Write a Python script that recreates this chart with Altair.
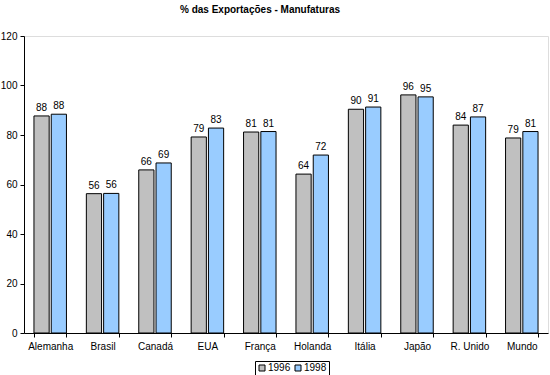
import altair as alt
import pandas as pd

categories = ["Alemanha", "Brasil", "Canadá", "EUA", "França", "Holanda", "Itália", "Japão", "R. Unido", "Mundo"]
v1996 = [87.7, 56.3, 65.9, 79.2, 81.2, 64.2, 90.4, 96.2, 84.0, 78.8]
v1998 = [88.4, 56.4, 68.7, 82.8, 81.4, 71.9, 91.3, 95.4, 87.3, 81.4]
series = ["1996", "1998"]

rows = []
for c, a, b in zip(categories, v1996, v1998):
    rows.append({"pais": c, "ano": "1996", "valor": a})
    rows.append({"pais": c, "ano": "1998", "valor": b})
df = pd.DataFrame(rows)

FONT = "Liberation Sans"

x = alt.X("pais:N", sort=categories, title=None,
          scale=alt.Scale(paddingInner=0.38, paddingOuter=0.19),
          axis=alt.Axis(labelAngle=0, tickBand="extent", domainColor="black",
                        tickColor="black", labelFont=FONT, labelFontSize=10,
                        labelColor="black", labelPadding=4, tickSize=4))
xo = alt.XOffset("ano:N", scale=alt.Scale(paddingInner=0.12))
y = alt.Y("valor:Q", title=None,
          scale=alt.Scale(domain=[0, 120], nice=False),
          axis=alt.Axis(values=[0, 20, 40, 60, 80, 100, 120], grid=False,
                        domainColor="black", tickColor="black", tickSize=4,
                        labelFont=FONT, labelFontSize=10, labelColor="black",
                        labelPadding=3))

bars = alt.Chart(df).mark_bar(stroke="black", strokeWidth=1).encode(
    x=x, xOffset=xo, y=y,
    color=alt.Color("ano:N", scale=alt.Scale(domain=series, range=["#c0c0c0", "#99ccff"]),
                    legend=alt.Legend(title=None, orient="none", direction="horizontal",
                                      legendX=231, legendY=325,
                                      strokeColor="black", padding=2,
                                      symbolType="square", symbolSize=36,
                                      symbolStrokeColor="black", symbolStrokeWidth=1,
                                      symbolOpacity=1,
                                      labelFont=FONT, labelFontSize=10, labelColor="black",
                                      columnPadding=2, labelOffset=1,
                                      fillColor="white"))
)

labels = alt.Chart(df).mark_text(dy=-8, font=FONT, fontSize=10, color="black").encode(
    x=x, xOffset=xo, y=y,
    text=alt.Text("valor:Q", format=".0f")
)

chart = (bars + labels).properties(
    width=524, height=297,
    title=alt.Title("% das Exportações - Manufaturas", font=FONT, fontSize=10,
                    fontWeight="bold", color="black", anchor="middle", offset=16, dx=-26),
    autosize=alt.AutoSizeParams(type="none"),
    padding={"left": 24, "top": 36, "right": 2, "bottom": 42},
).configure_view(stroke="#808080", strokeWidth=1).configure(background="white")

chart.save("out.html", embed_options={"renderer": "svg", "actions": False})
